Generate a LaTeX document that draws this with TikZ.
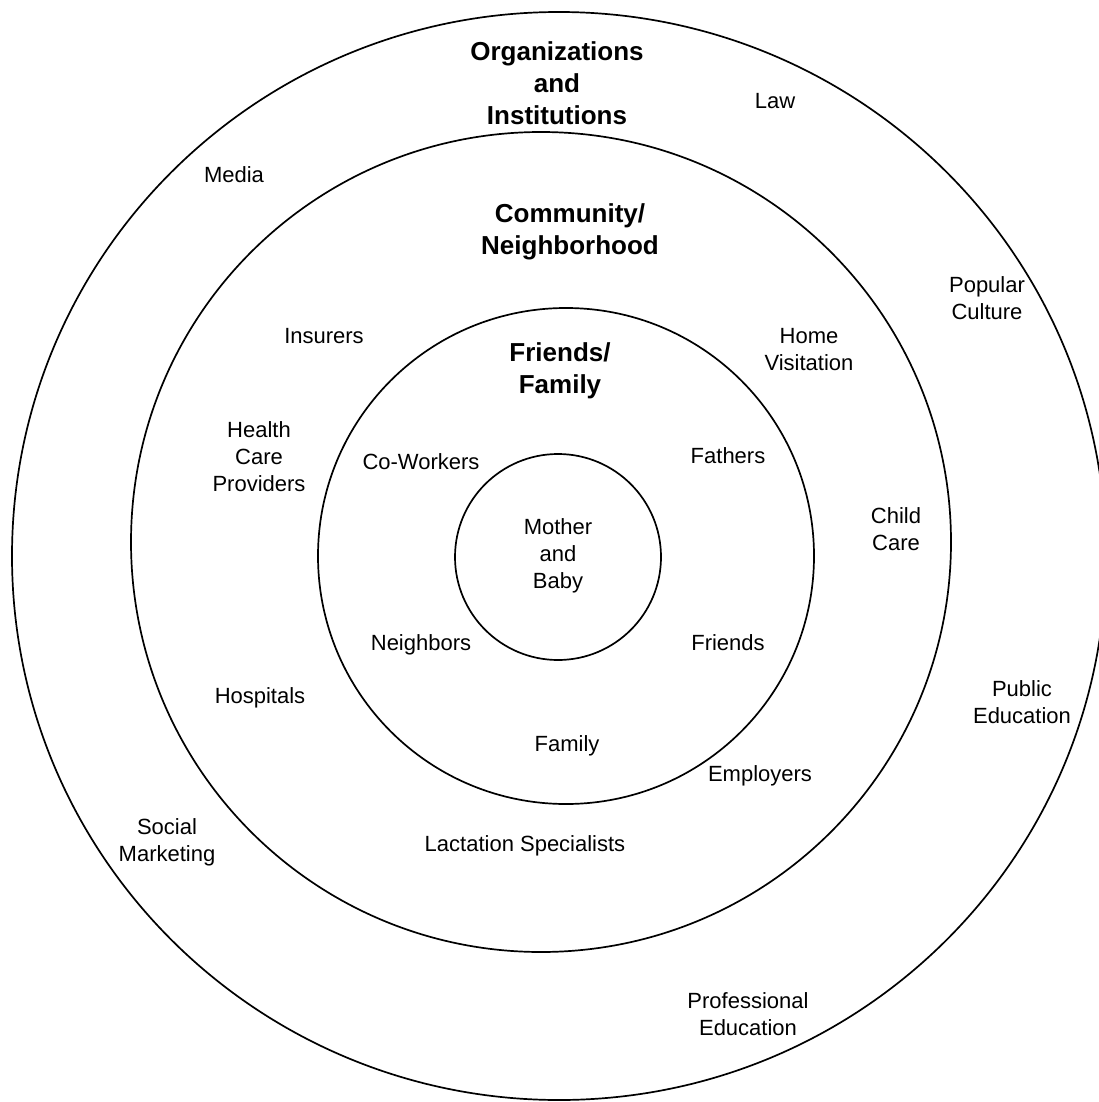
\documentclass[tikz,border=0pt]{standalone}
\usepackage{fontspec}
\setmainfont{Liberation Sans}
\begin{document}
\begin{tikzpicture}[x=1pt,y=-1pt,
  ring/.style={line width=1.7pt},
  lbl/.style={align=center,inner sep=0pt,font=\fontsize{22}{27}\selectfont},
  ttl/.style={align=center,inner sep=0pt,font=\fontsize{26}{32}\selectfont\bfseries}]
\useasboundingbox[fill=white] (0,0) rectangle (1099,1102);
\begin{scope}
\clip (0,0) rectangle (1099,1102);
\draw[ring] (559,556) ellipse [x radius=547pt, y radius=544pt];
\end{scope}
\draw[ring] (541,542) circle [radius=410pt];
\draw[ring] (566,556) circle [radius=248pt];
\draw[ring] (558,557) circle [radius=103pt];

\node[ttl] (org) at (557,83) {Organizations\\and\\Institutions};
\node[ttl] (com) at (570,232) {Community/\\Neighborhood};
\node[ttl] (ff) at (560,371) {Friends/\\Family};

\node[lbl] (law) at (775,101) {Law};
\node[lbl] (media) at (234,175) {Media};
\node[lbl] (pop) at (987,298) {Popular\\Culture};
\node[lbl] (ins) at (324,336) {Insurers};
\node[lbl] (home) at (809,350) {Home\\Visitation};
\node[lbl] (hcp) at (259,457) {Health\\Care\\Providers};
\node[lbl] (cow) at (421,462) {Co-Workers};
\node[lbl] (fat) at (728,456) {Fathers};
\node[lbl] (child) at (896,529) {Child\\Care};
\node[lbl] (mb) at (558,556) {Mother\\and\\Baby};
\node[lbl] (nei) at (421,645) {Neighbors};
\node[lbl] (fri) at (728,643) {Friends};
\node[lbl] (hosp) at (260,698) {Hospitals};
\node[lbl] (pub) at (1022,702) {Public\\Education};
\node[lbl] (fam) at (567,746) {Family};
\node[lbl] (emp) at (760,776) {Employers};
\node[lbl] (soc) at (167,842) {Social\\Marketing};
\node[lbl] (lac) at (525,846) {Lactation Specialists};
\node[lbl] (prof) at (748,1014) {Professional\\Education};
\end{tikzpicture}
\end{document}
